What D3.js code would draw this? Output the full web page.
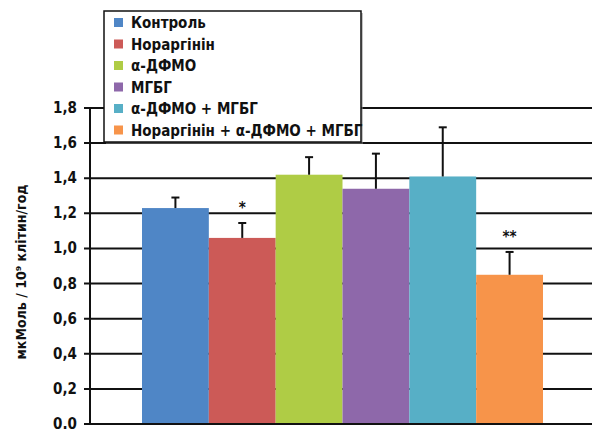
<!DOCTYPE html>
<html><head><meta charset="utf-8">
<script src="https://cdn.jsdelivr.net/npm/d3@7"></script>
<style>body{margin:0;background:#fff}svg{display:block}</style>
</head><body>
<svg id="c" width="592" height="432"></svg>
<script>
const categories = ["Контроль","Норагінін","α-ДФМО","МГБГ","α-ДФМО + МГБГ","Норагінін + α-ДФМО + МГБГ"];
const legendLabels = ["Контроль","Нораргінін","α-ДФМО","МГБГ","α-ДФМО + МГБГ","Нораргінін + α-ДФМО + МГБГ"];
const values = [1.23, 1.06, 1.42, 1.34, 1.41, 0.85];
const errors = [0.06, 0.085, 0.10, 0.20, 0.28, 0.13];
const marks = ["", "*", "", "", "", "**"];
const colors = ["#4f86c6","#cc5a57","#afcc45","#8e68aa","#57afc6","#f7944a"];
const yTicks = [0,0.2,0.4,0.6,0.8,1.0,1.2,1.4,1.6,1.8];
const yTickLabels = ["0.0","0,2","0,4","0,6","0,8","1,0","1,2","1,4","1,6","1,8"];
const yTitle = "мкМоль / 10⁹ клітин/год";

const svg = d3.select("#c");
const font = "'Liberation Sans Narrow','DejaVu Sans Condensed','Arial Narrow',sans-serif";
const y = d3.scaleLinear().domain([0,1.8]).range([424,108]);
const x = d3.scaleBand().domain(categories).range([142,543]).paddingInner(0).paddingOuter(0);
const axisX = 90;

// gridlines
svg.append("g").selectAll("line").data(yTicks).join("line")
  .attr("x1",84).attr("x2",592)
  .attr("y1",d=>y(d)).attr("y2",d=>y(d))
  .attr("stroke","#111").attr("stroke-width",2);

// bars
svg.append("g").selectAll("rect").data(categories).join("rect")
  .attr("x",d=>x(d)).attr("width",x.bandwidth())
  .attr("y",(d,i)=>y(values[i])).attr("height",(d,i)=>y(0)-y(values[i]))
  .attr("fill",(d,i)=>colors[i]);

// baseline
svg.append("line").attr("x1",84).attr("x2",592).attr("y1",y(0)).attr("y2",y(0))
  .attr("stroke","#111").attr("stroke-width",2);

// axis
svg.append("line").attr("x1",axisX).attr("x2",axisX).attr("y1",y(1.8)-1).attr("y2",y(0)+1)
  .attr("stroke","#111").attr("stroke-width",2);

// error bars
const eg = svg.append("g").attr("stroke","#111").attr("stroke-width",2);
categories.forEach((c,i)=>{
  const cx = x(c)+x.bandwidth()/2;
  eg.append("line").attr("x1",cx).attr("x2",cx).attr("y1",y(values[i])).attr("y2",y(values[i]+errors[i]));
  eg.append("line").attr("x1",cx-4).attr("x2",cx+4).attr("y1",y(values[i]+errors[i])).attr("y2",y(values[i]+errors[i]));
});

// significance marks
svg.append("g").selectAll("text").data(categories).join("text")
  .attr("x",d=>x(d)+x.bandwidth()/2)
  .attr("y",(d,i)=>y(values[i]+errors[i])-10)
  .attr("text-anchor","middle")
  .attr("font-family",font).attr("font-weight","bold").attr("font-size",15)
  .attr("fill","#111")
  .text((d,i)=>marks[i]);

// tick labels
svg.append("g").selectAll("text").data(yTicks).join("text")
  .attr("x",77).attr("y",d=>y(d)+5)
  .attr("text-anchor","end")
  .attr("font-family",font).attr("font-weight","bold").attr("font-size",15)
  .attr("fill","#111")
  .text((d,i)=>yTickLabels[i]);

// y title
svg.append("text")
  .attr("transform","translate(26,272) rotate(-90)")
  .attr("text-anchor","middle")
  .attr("font-family",font).attr("font-weight","bold").attr("font-size",14)
  .attr("fill","#111")
  .text(yTitle);

// legend
const lg = svg.append("g");
lg.append("rect").attr("x",106).attr("y",13).attr("width",257).attr("height",131).attr("fill","#888").attr("opacity",0.5);
lg.append("rect").attr("x",104).attr("y",11).attr("width",257).attr("height",131)
  .attr("fill","#fff").attr("stroke","#111").attr("stroke-width",1.5);
legendLabels.forEach((t,i)=>{
  const ly = 23 + i*21.5;
  lg.append("rect").attr("x",114).attr("y",ly-5).attr("width",9).attr("height",9).attr("fill",colors[i]);
  lg.append("text").attr("x",131).attr("y",ly+5)
    .attr("font-family",font).attr("font-weight","bold").attr("font-size",15)
    .attr("fill","#111").text(t);
});
</script>
</body></html>
